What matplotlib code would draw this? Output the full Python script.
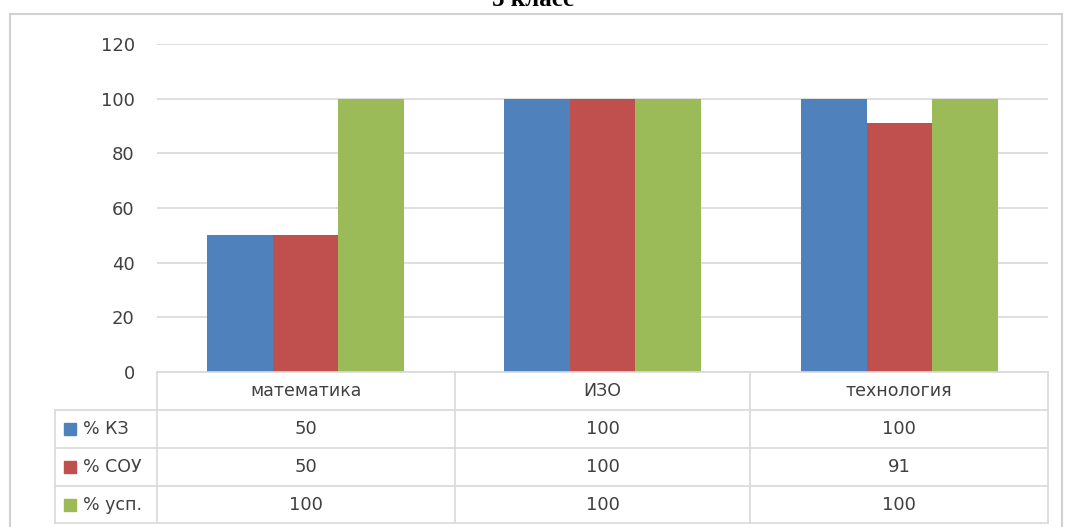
import matplotlib.pyplot as plt
import numpy as np
from matplotlib.lines import Line2D
from matplotlib.patches import Rectangle

subjects = ["математика", "ИЗО", "технология"]
series = ["% КЗ", "% СОУ", "% усп."]
kz = [50, 100, 100]
sou = [50, 100, 91]
usp = [100, 100, 100]
colors = ["#4F81BD", "#C0504D", "#9BBB59"]

W, H = 1067, 527
fig = plt.figure(figsize=(W / 100, H / 100), dpi=100)
plt.rcParams['font.family'] = ['DejaVu Sans']

def fx(px):
    return px / W

def fy(py):
    return 1 - py / H

grid_c = "#d9d9d9"
txt_c = "#404040"

# outer frame
fig.add_artist(Rectangle((fx(10), fy(540)), fx(1062) - fx(10), fy(14) - fy(540),
                         transform=fig.transFigure, fill=False, ec="#d0d0d0", lw=1.5))

# title (cut off at top, as in the source)
fig.text(0.5, fy(6), "5 класс", ha="center", va="baseline", fontsize=18,
         fontweight="bold", family="Liberation Serif", color="black")

x0, x1, ytop, ybot = 157, 1048, 44, 372
ax = fig.add_axes([fx(x0), fy(ybot), fx(x1) - fx(x0), fy(ytop) - fy(ybot)])
x = np.arange(len(subjects))
w = 0.222
for i, (vals, c) in enumerate(zip([kz, sou, usp], colors)):
    ax.bar(x + (i - 1) * w, vals, w, color=c, zorder=3)
ax.set_xlim(-0.5, len(subjects) - 0.5)
ax.set_ylim(0, 120)
ax.set_yticks(range(0, 121, 20))
ax.set_xticks([])
ax.yaxis.grid(True, color=grid_c, lw=1.2)
ax.set_axisbelow(True)
for s in ax.spines.values():
    s.set_visible(False)
ax.tick_params(axis="y", length=0, pad=16, labelsize=13, labelcolor=txt_c)

# data table
cols = [157, 455, 750, 1048]
rows = [372, 410, 448, 486, 523]
tl = 55
def hline(y, xa, xb):
    fig.add_artist(Line2D([fx(xa), fx(xb)], [fy(y), fy(y)], color=grid_c, lw=1.2))
def vline(xp, ya, yb):
    fig.add_artist(Line2D([fx(xp), fx(xp)], [fy(ya), fy(yb)], color=grid_c, lw=1.2))

hline(rows[0], cols[0], cols[-1])
for r in rows[1:]:
    hline(r, tl, cols[-1])
vline(tl, rows[1], rows[-1])
for c in cols:
    vline(c, rows[0], rows[-1])

for j, name in enumerate(subjects):
    cx = (cols[j] + cols[j + 1]) / 2
    fig.text(fx(cx), fy((rows[0] + rows[1]) / 2), name, ha="center", va="center",
             fontsize=12.5, color=txt_c)

for i, (name, vals, c) in enumerate(zip(series, [kz, sou, usp], colors)):
    cy = (rows[i + 1] + rows[i + 2]) / 2
    fig.add_artist(Rectangle((fx(64), fy(cy + 6)), fx(12), fy(0) - fy(12),
                             transform=fig.transFigure, color=c))
    fig.text(fx(83), fy(cy), name, ha="left", va="center", fontsize=12.5, color=txt_c)
    for j, v in enumerate(vals):
        cx = (cols[j] + cols[j + 1]) / 2
        fig.text(fx(cx), fy(cy), str(v), ha="center", va="center", fontsize=13, color=txt_c)

plt.savefig("out.png", dpi=100)
